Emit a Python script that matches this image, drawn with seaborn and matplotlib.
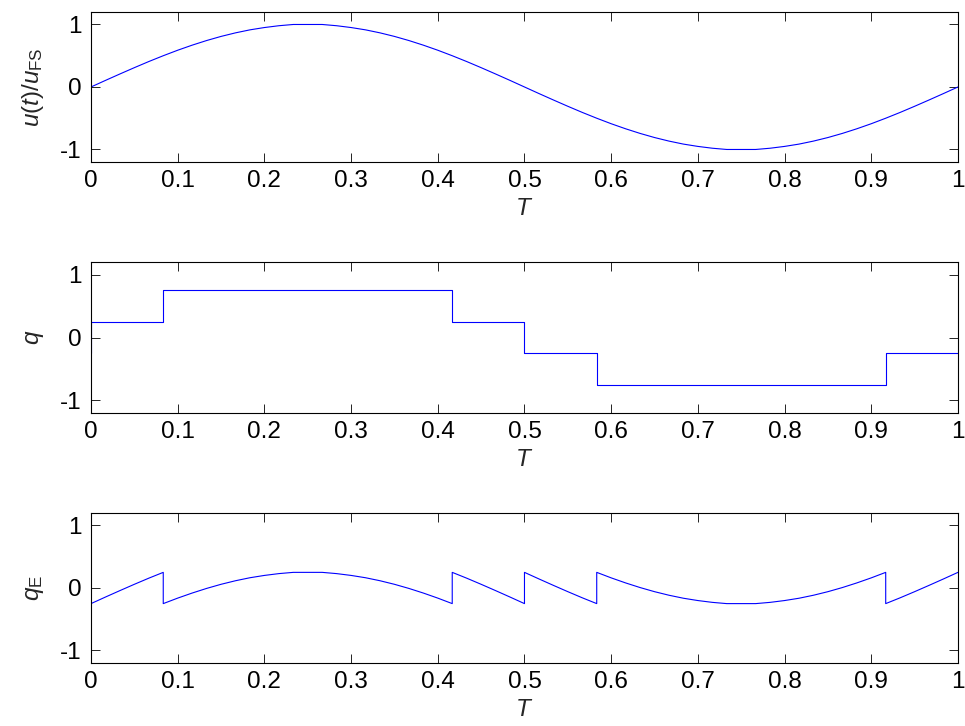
import numpy as np
import pandas as pd
import matplotlib
matplotlib.use("Agg")
import matplotlib.pyplot as plt
import seaborn as sns

# input signal u(t)/u_FS, sampled at T = 0, 1/60, ..., 1
t = np.linspace(0, 1, 61)
u = [0.0, 0.105, 0.208, 0.309, 0.407, 0.5, 0.588, 0.669, 0.743, 0.809,
     0.866, 0.914, 0.951, 0.98, 1.0, 1.0, 1.0, 0.98, 0.951, 0.914,
     0.866, 0.809, 0.743, 0.669, 0.588, 0.5, 0.407, 0.309, 0.208, 0.105,
     0.0, -0.105, -0.208, -0.309, -0.407, -0.5, -0.588, -0.669, -0.743, -0.809,
     -0.866, -0.914, -0.951, -0.98, -1.0, -1.0, -1.0, -0.98, -0.951, -0.914,
     -0.866, -0.809, -0.743, -0.669, -0.588, -0.5, -0.407, -0.309, -0.208, -0.105,
     0.0]

# quantizer output: level held between consecutive edges
# (the very first sample sits at -0.25 before switching to +0.25)
q_edges = [0, 0, 1 / 12, 5 / 12, 6 / 12, 7 / 12, 11 / 12, 1]
q_levels = [-0.25, 0.25, 0.75, 0.25, -0.25, -0.75, -0.25]

x_ticks = [0, 0.1, 0.2, 0.3, 0.4, 0.5, 0.6, 0.7, 0.8, 0.9, 1]
x_ticklabels = ["0", "0.1", "0.2", "0.3", "0.4", "0.5", "0.6", "0.7", "0.8", "0.9", "1"]
y_ticks = [-1, 0, 1]
y_ticklabels = ["-1", "0", "1"]


def level(x, side):
    edges = np.array(q_edges)
    if side == "left":
        i = np.searchsorted(edges, x - 1e-9, side="left") - 1
    else:
        i = np.searchsorted(edges, x + 1e-9, side="right") - 1
    return q_levels[min(max(i, 0), len(q_levels) - 1)]


rows = []
for tk, uk in zip(t, u):
    ql, qr = level(tk, "left"), level(tk, "right")
    rows.append((tk, uk, ql))
    if qr != ql:
        rows.append((tk, uk, qr))
df = pd.DataFrame(rows, columns=["T", "u", "q"])
df["qE"] = df["u"] - df["q"]

sns.set_style("ticks")
plt.rcParams.update({
    "font.family": ["Liberation Sans", "DejaVu Sans"],
    "font.size": 17.5,
    "mathtext.fontset": "custom",
    "mathtext.rm": "Liberation Sans",
    "mathtext.it": "Liberation Sans:italic",
    "axes.unicode_minus": False,
    "axes.linewidth": 0.8,
    "axes.edgecolor": "black",
    "xtick.direction": "in",
    "ytick.direction": "in",
    "xtick.top": True,
    "ytick.right": True,
    "xtick.major.size": 6.5,
    "ytick.major.size": 6.5,
    "xtick.major.width": 0.6,
    "ytick.major.width": 0.6,
    "xtick.major.pad": 6,
    "ytick.major.pad": 6.5,
    "xtick.color": "black",
    "ytick.color": "black",
})

fig = plt.figure(figsize=(9.65, 7.26), dpi=100)
positions = [
    [0.0943, 0.7769, 0.8984, 0.2066],
    [0.0943, 0.4311, 0.8984, 0.2080],
    [0.0943, 0.0868, 0.8984, 0.2066],
]
series = ["u", "q", "qE"]
ylabels = [r"$u(t)/u_{\mathrm{FS}}$", r"$q$", r"$q_{\mathrm{E}}$"]

axes = []
for pos, col, lab in zip(positions, series, ylabels):
    ax = fig.add_axes(pos)
    sns.lineplot(data=df, x="T", y=col, sort=False, estimator=None,
                 color="#0000ff", linewidth=0.8, ax=ax)
    ax.set_xlim(0, 1)
    ax.set_ylim(-1.2, 1.2)
    ax.set_xticks(x_ticks)
    ax.set_xticklabels(x_ticklabels)
    ax.set_yticks(y_ticks)
    ax.set_yticklabels(y_ticklabels)
    ax.set_xlabel(r"$T$", labelpad=4)
    ax.set_ylabel(lab, labelpad=10)
    for s in ax.spines.values():
        s.set_visible(True)
    axes.append(ax)

fig.align_ylabels(axes)
fig.savefig("out.png", dpi=100)
